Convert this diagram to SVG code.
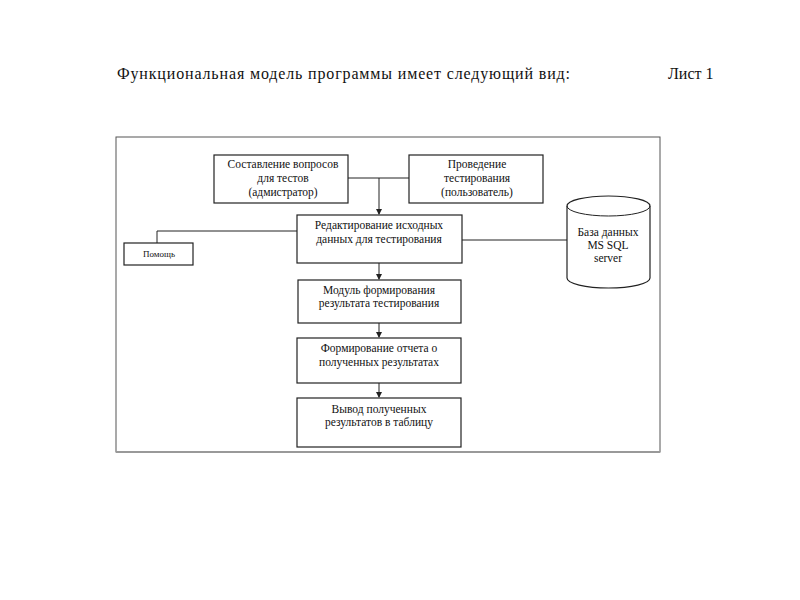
<svg xmlns="http://www.w3.org/2000/svg" width="800" height="600" viewBox="0 0 800 600">
<style>
.t{font-family:"Liberation Serif","Times New Roman",serif;fill:#111;}
.bx{fill:#fff;stroke:#222;stroke-width:1.2;}
.ln{fill:none;stroke:#222;stroke-width:1;}
.c{font-size:11.5px;text-anchor:middle;}
</style>
<defs>
<marker id="ar" markerWidth="6" markerHeight="6" refX="5" refY="3" orient="auto" markerUnits="userSpaceOnUse">
<path d="M0,0 L6,3 L0,6 z" fill="#222"/>
</marker>
</defs>
<rect width="800" height="600" fill="#fff"/>
<text class="t" x="117" y="79" font-size="16" textLength="453" lengthAdjust="spacing">Функциональная модель программы имеет следующий вид:</text>
<text class="t" x="668" y="79" font-size="16">Лист 1</text>
<g id="frame">
<rect x="116" y="137" width="544" height="315" fill="none" stroke="#555" stroke-width="1"/>
<line x1="116" y1="452" x2="660" y2="452" stroke="#999" stroke-width="2"/>
</g>
<g id="connectors">
<line class="ln" x1="348" y1="178" x2="409" y2="178"/>
<line class="ln" x1="379" y1="178" x2="379" y2="214" marker-end="url(#ar)"/>
<polyline class="ln" points="157,243 157,231 297,231"/>
<line class="ln" x1="462" y1="240" x2="567" y2="240"/>
<line class="ln" x1="379" y1="263" x2="379" y2="279" marker-end="url(#ar)"/>
<line class="ln" x1="379" y1="323" x2="379" y2="337" marker-end="url(#ar)"/>
<line class="ln" x1="379" y1="383" x2="379" y2="397" marker-end="url(#ar)"/>
</g>
<g id="n1">
<rect class="bx" x="214" y="155" width="134" height="48"/>
<text class="t c" x="283" y="168">Составление вопросов</text>
<text class="t c" x="283" y="182">для тестов</text>
<text class="t c" x="283" y="196">(адмистратор)</text>
</g>
<g id="n2">
<rect class="bx" x="409" y="155" width="134" height="48"/>
<text class="t c" x="477" y="168">Проведение</text>
<text class="t c" x="477" y="182">тестирования</text>
<text class="t c" x="477" y="196">(пользователь)</text>
</g>
<g id="n3">
<rect class="bx" x="297" y="215" width="165" height="48"/>
<text class="t c" x="379" y="229">Редактирование исходных</text>
<text class="t c" x="379" y="243">данных для тестирования</text>
</g>
<g id="help">
<rect class="bx" x="124" y="243" width="69" height="22"/>
<text class="t" x="159" y="257" font-size="9" text-anchor="middle">Помощь</text>
</g>
<g id="db">
<path class="bx" d="M567,206 A41.5,10 0 0 1 650,206 L650,278 A41.5,10 0 0 1 567,278 Z"/>
<path class="ln" d="M567,206 A41.5,10 0 0 0 650,206"/>
<text class="t c" x="608" y="236">База данных</text>
<text class="t c" x="608" y="249">MS SQL</text>
<text class="t c" x="608" y="262">server</text>
</g>
<g id="n4">
<rect class="bx" x="298" y="280" width="163" height="43"/>
<text class="t c" x="379" y="294">Модуль формирования</text>
<text class="t c" x="379" y="307">результата тестирования</text>
</g>
<g id="n5">
<rect class="bx" x="297" y="338" width="164" height="45"/>
<text class="t c" x="379" y="352">Формирование отчета о</text>
<text class="t c" x="379" y="366">полученных результатах</text>
</g>
<g id="n6">
<rect class="bx" x="297" y="398" width="164" height="49"/>
<text class="t c" x="379" y="413">Вывод полученных</text>
<text class="t c" x="379" y="426">результатов в таблицу</text>
</g>
</svg>
